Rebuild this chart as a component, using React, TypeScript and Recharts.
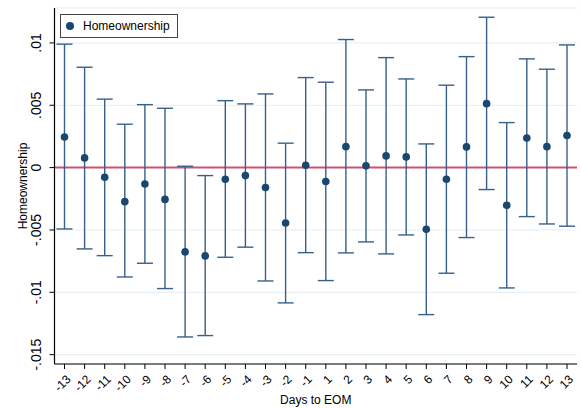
import React from "react";
import {
  CartesianGrid,
  ComposedChart,
  ErrorBar,
  Line,
  ReferenceLine,
  XAxis,
  YAxis,
} from "recharts";

// days to end of month (no day 0)
const days = [
  "-13", "-12", "-11", "-10", "-9", "-8", "-7", "-6", "-5", "-4", "-3", "-2", "-1",
  "1", "2", "3", "4", "5", "6", "7", "8", "9", "10", "11", "12", "13",
];

// point estimates
const coef = [
  0.00246, 0.00078, -0.00077, -0.00273, -0.00131, -0.00255, -0.00676, -0.00708, -0.00093, -0.00064, -0.0016, -0.00444, 0.00019,
  -0.00112, 0.00168, 0.00014, 0.00094, 0.00086, -0.00494, -0.00093, 0.00166, 0.00513, -0.00302, 0.00238, 0.00168, 0.00257,
];

// confidence interval bounds
const ciLow = [
  -0.00492, -0.00652, -0.00706, -0.00877, -0.00767, -0.0097, -0.01358, -0.01347, -0.00719, -0.00638, -0.00909, -0.01085, -0.00682,
  -0.00906, -0.00684, -0.00596, -0.00692, -0.0054, -0.01179, -0.00847, -0.00561, -0.00176, -0.00965, -0.00393, -0.00452, -0.0047,
];
const ciHigh = [
  0.0099, 0.00805, 0.00549, 0.00348, 0.00505, 0.00476, 0.00011, -0.00064, 0.00537, 0.00511, 0.00591, 0.00196, 0.00722,
  0.00685, 0.01027, 0.00623, 0.00882, 0.00711, 0.0019, 0.00661, 0.0089, 0.01206, 0.00361, 0.00872, 0.00789, 0.00984,
];

const yTicks = [-0.015, -0.01, -0.005, 0, 0.005, 0.01];
const yTickLabels = ["-.015", "-.01", "-.005", "0", ".005", ".01"];

const data = days.map((d, i) => ({
  day: d,
  coef: coef[i],
  err: [coef[i] - ciLow[i], ciHigh[i] - coef[i]],
}));

const NAVY = "#1a476f";
const FONT = "'Liberation Sans', Arial, sans-serif";

const YTick = (props: any) => {
  const { x, y, payload } = props;
  const idx = yTicks.indexOf(payload.value);
  const px = x - 6;
  return (
    <text
      x={px}
      y={y}
      transform={`rotate(-90, ${px}, ${y})`}
      textAnchor="middle"
      fontSize={14}
      fontFamily={FONT}
      fill="#000"
    >
      {idx >= 0 ? yTickLabels[idx] : payload.value}
    </text>
  );
};

const XTick = (props: any) => {
  const { x, y, payload } = props;
  const px = x + 4;
  const py = y + 6;
  return (
    <text
      x={px}
      y={py}
      dy="0.35em"
      transform={`rotate(-45, ${px}, ${py})`}
      textAnchor="end"
      fontSize={12}
      fontFamily={FONT}
      fill="#000"
    >
      {payload.value}
    </text>
  );
};

const YLabel = (props: any) => {
  const { viewBox } = props;
  const px = viewBox.x + 27;
  const py = viewBox.y + viewBox.height / 2;
  return (
    <text
      x={px}
      y={py}
      transform={`rotate(-90, ${px}, ${py})`}
      textAnchor="middle"
      fontSize={12}
      fontFamily={FONT}
      fill="#000"
    >
      Homeownership
    </text>
  );
};

const LegendBox = () => (
  <div
    style={{
      position: "absolute",
      left: 60,
      top: 14,
      border: "1px solid #444",
      background: "#fff",
      width: 116,
      height: 22,
      display: "flex",
      alignItems: "center",
      fontFamily: FONT,
      fontSize: 12,
    }}
  >
    <span
      style={{
        display: "inline-block",
        width: 8,
        height: 8,
        borderRadius: 4,
        background: NAVY,
        marginLeft: 5,
        marginRight: 9,
      }}
    />
    Homeownership
  </div>
);

export default function App() {
  return (
    <div style={{ position: "absolute", left: 0, top: 0, width: 581, height: 408, background: "#fff" }}>
      <ComposedChart
        width={581}
        height={408}
        data={data}
        margin={{ top: 8, right: 4, bottom: 0, left: 0 }}
      >
        <CartesianGrid vertical={false} stroke="#e4edf0" strokeWidth={1} />
        <XAxis
          dataKey="day"
          interval={0}
          height={44}
          padding={{ left: 10, right: 10 }}
          tick={<XTick />}
          tickSize={5}
          tickLine={{ stroke: "#000" }}
          axisLine={{ stroke: "#000", strokeWidth: 1.2 }}
          label={{
            value: "Days to EOM",
            position: "insideBottom",
            offset: 4,
            fontSize: 12,
            fontFamily: FONT,
            fill: "#000",
          }}
        />
        <YAxis
          type="number"
          domain={[-0.01575, 0.0128]}
          ticks={yTicks}
          interval={0}
          width={54.5}
          tick={<YTick />}
          tickSize={5}
          tickLine={{ stroke: "#000" }}
          axisLine={{ stroke: "#000", strokeWidth: 1.2 }}
          allowDataOverflow
          label={<YLabel />}
        />
        <ReferenceLine y={0} stroke="#cf5070" strokeWidth={2} />
        <Line
          dataKey="coef"
          stroke="none"
          isAnimationActive={false}
          dot={{ r: 3.8, fill: NAVY, stroke: NAVY, strokeWidth: 0 }}
          activeDot={false}
        >
          <ErrorBar dataKey="err" direction="y" width={8} stroke="#37608a" strokeWidth={1.4} />
        </Line>
      </ComposedChart>
      <LegendBox />
    </div>
  );
}
